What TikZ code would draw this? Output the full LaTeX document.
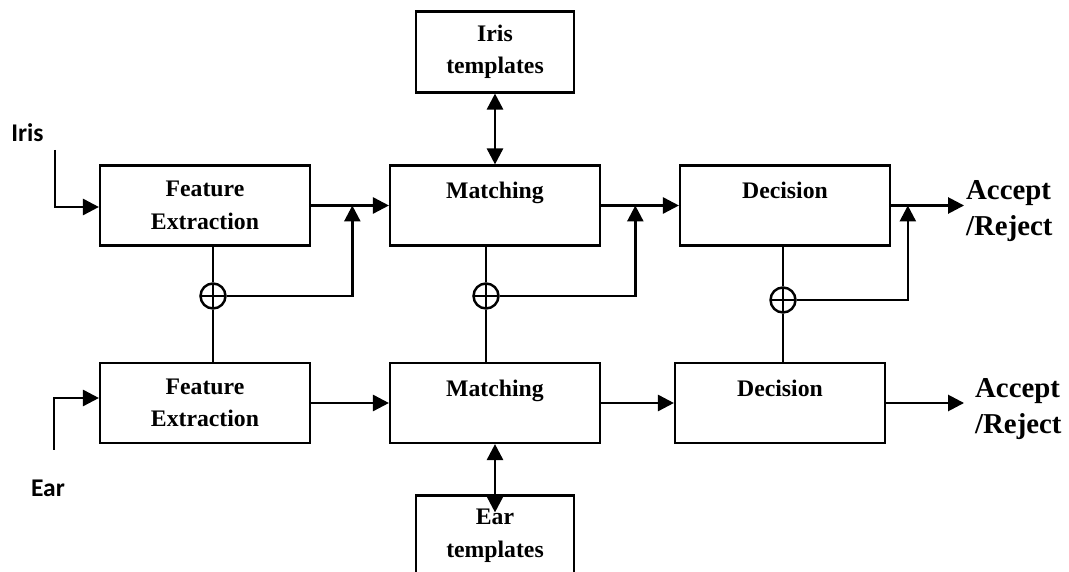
\documentclass[tikz,border=0pt]{standalone}
\usepackage{fontspec}
\setmainfont{Liberation Serif}
\newfontfamily\labelfont{Carlito}
\usetikzlibrary {arrows.meta,calc,positioning}

\begin{document}
\begin{tikzpicture}[node distance= 5.8cm,
    >={Triangle[length= 0.32cm, width= 0.32cm]}]
      \useasboundingbox (0,0) rectangle (21.38,-11.44);
      \begin{scope}[every node/.style={rectangle,draw,line width= 1.2pt,
          minimum width= 4.2cm,minimum height= 1.6cm,align= center,inner sep= 0pt,
          font= \fontsize{13.5}{18.5}\selectfont\bfseries}]
        \node (FE1) at (4.1,-4.11) {Feature\\Extraction};
        \node (M1) [right of= FE1] {Matching\\[-0.24cm]\strut};
        \node (D1) [right of= M1] {Decision\\[-0.24cm]\strut};
        \node (FE2) [below of= FE1, node distance= 3.95cm] {Feature\\Extraction};
        \node (M2) [right of= FE2] {Matching\\[-0.24cm]\strut};
        \node (D2) [right of= M2, node distance= 5.7cm] {Decision\\[-0.24cm]\strut};
        \node (IT) [above of= M1, node distance= 3.07cm,
          minimum width= 3.16cm, minimum height= 1.62cm] {Iris\\templates};
        \node (ET) [below of= M2, node distance= 2.66cm,
          minimum width= 3.16cm, minimum height= 1.62cm] {Ear\\templates};
      \end{scope}
      \begin{scope}[every node/.style={circle,draw,line width= 1.4pt,
          minimum size= 0.5cm,inner sep= 0pt,
          path picture={\draw[line width= 1.4pt]
            (path picture bounding box.west) -- (path picture bounding box.east)
            (path picture bounding box.north) -- (path picture bounding box.south);}}]
        \node (sumA) at (4.26,-5.92) {};
        \node (sumB) at (9.72,-5.92) {};
        \node (sumC) at (15.66,-6.0) {};
      \end{scope}
      % inputs and outputs
      \node (iris) [font= \labelfont\bfseries\fontsize{14.5}{17}\selectfont] at (0.55,-2.66) {Iris};
      \node (ear) [font= \labelfont\bfseries\fontsize{14.5}{17}\selectfont] at (0.96,-9.76) {Ear};
      \coordinate (irisIn) at (1.1,-3.0);
      \coordinate (earIn) at (1.08,-9.0);
      \coordinate (jA) at ($(FE1.east)!0.53!(M1.west)$);
      \coordinate (jB) at ($(M1.east)!0.44!(D1.west)$);
      \coordinate (outA) at ([xshift= 1.46cm]D1.east);
      \coordinate (jC) at ($(D1.east)!0.23!(outA)$);
      \coordinate (outB) at ([xshift= 1.56cm]D2.east);
      \node (accA) [right= 0pt of outA, yshift= -0.12cm, align= left, inner sep= 1pt,
        font= \fontsize{16.4}{20.5}\selectfont\bfseries] {Accept\\/Reject};
      \node (accB) [right= 0.18cm of outB, yshift= -0.12cm, align= left, inner sep= 1pt,
        font= \fontsize{16.4}{20.5}\selectfont\bfseries] {Accept\\/Reject};
      \begin{scope}
        [every edge/.style={draw= black, line width= 1.5pt}]
        \draw[->, line width= 1.5pt] (irisIn) |- ([yshift= -0.03cm]FE1.west);
        \draw[->, line width= 1.5pt] (earIn) |- ([yshift= 0.1cm]FE2.west);
        \path (FE1.east) edge[->] (FE1.east -| M1.west);
        \path (M1.east) edge[->] (M1.east -| D1.west);
        \path (D1.east) edge[->] (outA);
        \path (FE2.east) edge[->] (M2.west);
        \path (M2.east) edge[->] (D2.west);
        \path (D2.east) edge[->] (outB);
        \path (IT.south) edge[<->] (M1.north);
        \path (M2.south) edge[<->] ([yshift= -0.36cm]ET.north);
        % fusion lines
        \path (FE1.south -| sumA) edge[line width= 0.85pt] (sumA.north);
        \path (sumA.south) edge[line width= 0.85pt] (sumA |- FE2.north);
        \path (M1.south -| sumB) edge[line width= 0.85pt] (sumB.north);
        \path (sumB.south) edge[line width= 0.85pt] (sumB |- M2.north);
        \path (D1.south -| sumC) edge[line width= 0.85pt] (sumC.north);
        \path (sumC.south) edge[line width= 0.85pt] (sumC |- D2.north);
        \draw[->, line width= 1.5pt] (sumA.east) -| (jA);
        \draw[->, line width= 1.5pt] (sumB.east) -| (jB);
        \draw[->, line width= 1.5pt] (sumC.east) -| (jC);
      \end{scope}
    \end{tikzpicture}
\end{document}
